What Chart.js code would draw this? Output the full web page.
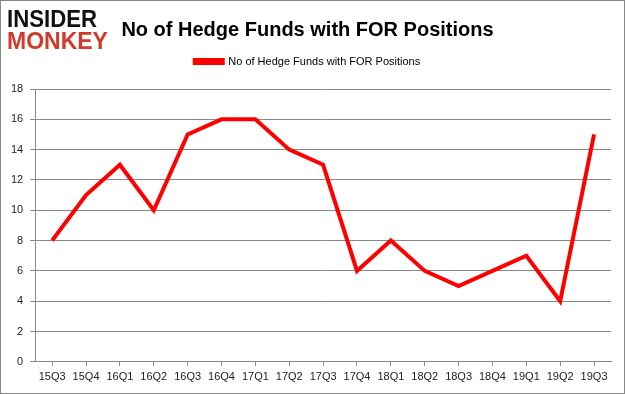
<!DOCTYPE html>
<html>
<head>
<meta charset="utf-8">
<script src="https://cdn.jsdelivr.net/npm/chart.js@4.4.0/dist/chart.umd.min.js"></script>
<style>
  html, body { margin: 0; padding: 0; background: #fff; }
  #wrap { width: 625px; height: 394px; position: relative; }
</style>
</head>
<body>
<div id="wrap"><canvas id="fundsChart" width="625" height="394"></canvas></div>
<script>
const quarters = ["15Q3", "15Q4", "16Q1", "16Q2", "16Q3", "16Q4", "17Q1", "17Q2", "17Q3",
  "17Q4", "18Q1", "18Q2", "18Q3", "18Q4", "19Q1", "19Q2", "19Q3"];
const hedgeFunds = [8, 11, 13, 10, 15, 16, 16, 14, 13, 6, 8, 6, 5, 6, 7, 4, 15];
const yTicks = [0, 2, 4, 6, 8, 10, 12, 14, 16, 18];
const seriesName = "No of Hedge Funds with FOR Positions";
const fontFam = "'Liberation Sans', Arial, sans-serif";

// logo + outer frame
const decor = {
  id: "decor",
  afterDraw(chart) {
    const ctx = chart.ctx;
    ctx.save();
    ctx.strokeStyle = "#888";
    ctx.lineWidth = 1;
    ctx.strokeRect(0.5, 0.5, chart.width - 1, chart.height - 1);

    ctx.textBaseline = "alphabetic";
    ctx.textAlign = "left";
    ctx.font = "bold 23px " + fontFam;
    ctx.fillStyle = "#111";
    ctx.fillText("INSIDER", 7, 27, 90);
    ctx.fillStyle = "#d13a2a";
    ctx.fillText("MONKEY", 7, 49, 104);
    ctx.restore();
  }
};

const ctx = document.getElementById("fundsChart").getContext("2d");
new Chart(ctx, {
  type: "line",
  data: {
    labels: quarters,
    datasets: [{
      label: seriesName,
      data: hedgeFunds,
      borderColor: "#ff0000",
      backgroundColor: "#ff0000",
      borderWidth: 4,
      pointRadius: 0,
      fill: false,
      tension: 0
    }]
  },
  options: {
    responsive: false,
    animation: false,
    devicePixelRatio: 1,
    layout: { padding: { top: 4, left: 4, right: 14, bottom: 5 } },
    plugins: {
      title: {
        display: true,
        text: seriesName,
        color: "#000",
        font: { family: fontFam, size: 20, weight: "bold", lineHeight: 1 },
        padding: { top: 16, bottom: 0 }
      },
      // empty spacer between legend and plot
      subtitle: {
        display: true,
        text: " ",
        weight: 500,
        font: { size: 12, lineHeight: 1 },
        padding: 0
      },
      legend: {
        position: "top",
        labels: {
          color: "#000",
          font: { family: fontFam, size: 11 },
          boxWidth: 28,
          boxHeight: 3,
          padding: 16
        }
      },
      tooltip: { enabled: false }
    },
    scales: {
      x: {
        offset: true,
        grid: { display: true, drawOnChartArea: false, drawTicks: true, tickLength: 4, color: "#888" },
        border: { color: "#888" },
        ticks: {
          color: "#222",
          font: { family: fontFam, size: 11 },
          maxRotation: 0,
          autoSkip: false,
          padding: 5
        }
      },
      y: {
        min: 0,
        max: 18,
        afterBuildTicks(axis) { axis.ticks = yTicks.map(v => ({ value: v })); },
        grid: { color: "#888", drawTicks: true, tickLength: 5 },
        border: { color: "#888" },
        ticks: {
          color: "#222",
          font: { family: fontFam, size: 11 },
          padding: 7
        }
      }
    }
  },
  plugins: [decor]
});
</script>
</body>
</html>
